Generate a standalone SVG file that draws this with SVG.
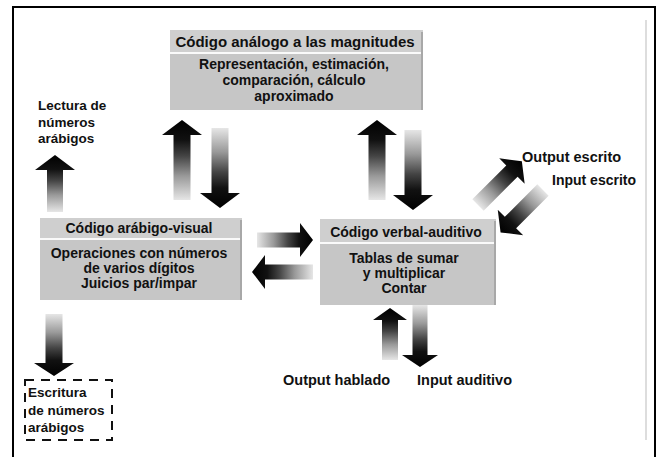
<svg xmlns="http://www.w3.org/2000/svg" width="660" height="457" viewBox="0 0 660 457">
<style>
.t{font-family:"Liberation Sans",Arial,sans-serif;font-weight:bold;fill:#111;}
.c{text-anchor:middle;}
.hd{fill:#cfcfcf;}
.bd{fill:#c6c6c6;}
.sep{stroke:#fafafa;stroke-width:2;}
.edge{stroke:#a8a8a8;stroke-width:2;}
.arr{fill:url(#fade);}
</style>
<defs>
<linearGradient id="fade" x1="0" y1="0" x2="1" y2="0">
<stop offset="0" stop-color="#e6e6e6"/>
<stop offset="0.3" stop-color="#999"/>
<stop offset="0.55" stop-color="#444"/>
<stop offset="0.75" stop-color="#111"/>
<stop offset="1" stop-color="#000"/>
</linearGradient>
<path id="a80" d="M0,-8.5 H65 V-20 L80,0 L65,20 V8.5 H0 Z"/>
</defs>
<rect width="660" height="457" fill="#fff"/>
<g id="frame" fill="none">
<path d="M13,457 V7 H655 V457" stroke="#000" stroke-width="2"/>
<line x1="646" y1="20" x2="646" y2="440" stroke="#bbb" stroke-width="1"/>
</g>
<g id="connectors">
<use href="#a80" class="arr" transform="translate(182,200) rotate(-90)"/>
<use href="#a80" class="arr" transform="translate(220,128) rotate(90)"/>
<use href="#a80" class="arr" transform="translate(377,200) rotate(-90)"/>
<use href="#a80" class="arr" transform="translate(413,130) rotate(90)"/>
<path class="arr" transform="translate(257,240)" d="M0,-7.5 H43 V-17 L56,0 L43,17 V7.5 H0 Z"/>
<path class="arr" transform="translate(313,272) rotate(180)" d="M0,-7.5 H48 V-17 L61,0 L48,17 V7.5 H0 Z"/>
<path class="arr" transform="translate(55,212) rotate(-90)" d="M0,-8 H42 V-20 L57,0 L42,20 V8 H0 Z"/>
<path class="arr" transform="translate(54,314) rotate(90)" d="M0,-8.5 H49 V-20 L62,0 L49,20 V8.5 H0 Z"/>
<path class="arr" transform="translate(390,360) rotate(-90)" d="M0,-8 H40 V-17 L52,0 L40,17 V8 H0 Z"/>
<path class="arr" transform="translate(420,305) rotate(90)" d="M0,-7.5 H50 V-18 L62,0 L50,18 V7.5 H0 Z"/>
<path class="arr" transform="translate(478,205) rotate(-45)" d="M0,-8 H48 V-18 L62,0 L48,18 V8 H0 Z"/>
<path class="arr" transform="translate(543,190) rotate(135)" d="M0,-8 H46 V-18 L60,0 L46,18 V8 H0 Z"/>
</g>
<g id="node-analogo">
<rect class="hd" x="170" y="30" width="253" height="22"/>
<rect class="bd" x="170" y="54" width="253" height="56"/>
<line class="sep" x1="170" y1="53" x2="423" y2="53"/>
<line class="edge" x1="422" y1="32" x2="422" y2="110"/>
<text class="t c" x="295" y="47" font-size="15">Código análogo a las magnitudes</text>
<text class="t c" x="294" y="69" font-size="14">Representación, estimación,</text>
<text class="t c" x="294" y="85" font-size="14">comparación, cálculo</text>
<text class="t c" x="294" y="101" font-size="14">aproximado</text>
</g>
<g id="node-arabigo">
<rect class="hd" x="40" y="218" width="202" height="20"/>
<rect class="bd" x="40" y="240" width="202" height="60"/>
<line class="sep" x1="40" y1="239" x2="242" y2="239"/>
<line class="edge" x1="241" y1="220" x2="241" y2="300"/>
<text class="t c" x="139" y="233" font-size="14">Código arábigo-visual</text>
<text class="t c" x="139" y="258" font-size="14">Operaciones con números</text>
<text class="t c" x="139" y="273" font-size="14">de varios dígitos</text>
<text class="t c" x="139" y="288" font-size="14">Juicios par/impar</text>
</g>
<g id="node-verbal">
<rect class="hd" x="320" y="219" width="176" height="23"/>
<rect class="bd" x="320" y="244" width="176" height="61"/>
<line class="sep" x1="320" y1="243" x2="496" y2="243"/>
<line class="edge" x1="495" y1="221" x2="495" y2="305"/>
<text class="t c" x="406" y="237" font-size="14">Código verbal-auditivo</text>
<text class="t c" x="404" y="263" font-size="14">Tablas de sumar</text>
<text class="t c" x="404" y="278" font-size="14">y multiplicar</text>
<text class="t c" x="404" y="293" font-size="14">Contar</text>
</g>
<g id="node-lectura">
<text class="t" x="38" y="110" font-size="13.5">Lectura de</text>
<text class="t" x="38" y="127" font-size="13.5">números</text>
<text class="t" x="38" y="143" font-size="13.5">arábigos</text>
</g>
<g id="node-escritura">
<rect x="25" y="380" width="87" height="60" fill="none" stroke="#111" stroke-width="2" stroke-dasharray="9,7"/>
<text class="t" x="28" y="397" font-size="13.5">Escritura</text>
<text class="t" x="28" y="415" font-size="13.5">de números</text>
<text class="t" x="28" y="432" font-size="13.5">arábigos</text>
</g>
<g id="node-output-hablado">
<text class="t" x="283" y="385" font-size="14.5">Output hablado</text>
</g>
<g id="node-input-auditivo">
<text class="t" x="417" y="385" font-size="14.5">Input auditivo</text>
</g>
<g id="node-output-escrito">
<text class="t" x="522" y="162" font-size="14.5">Output escrito</text>
</g>
<g id="node-input-escrito">
<text class="t" x="552" y="185" font-size="14">Input escrito</text>
</g>
</svg>
